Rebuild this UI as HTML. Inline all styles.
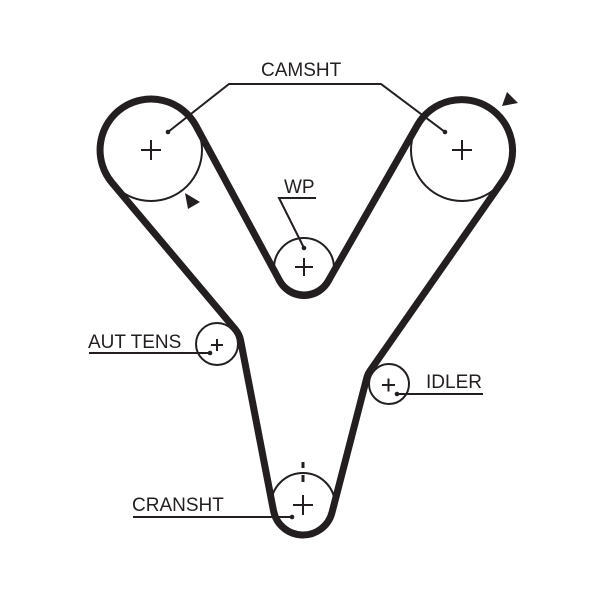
<!DOCTYPE html>
<html>
<head>
<meta charset="utf-8">
<style>
  html, body { margin:0; padding:0; background:#fff; }
  body { width:600px; height:589px; overflow:hidden; }
  svg { display:block; }
  text { font-family:"Liberation Sans", Arial, sans-serif; font-size:19px; fill:#231f20; }
</style>
</head>
<body>
<svg width="600" height="589" viewBox="0 0 600 589" xmlns="http://www.w3.org/2000/svg">
  <rect width="600" height="589" fill="#fff"/>

  <!-- thin pulley circles -->
  <g fill="none" stroke="#231f20" stroke-width="2">
    <circle cx="151" cy="150" r="51"/>
    <circle cx="462" cy="150" r="51"/>
    <circle cx="304" cy="268" r="30"/>
    <circle cx="217" cy="344" r="21"/>
    <circle cx="389" cy="384" r="20"/>
    <circle cx="303" cy="505" r="32"/>
  </g>

  <!-- belt -->
  <path d="M 112.0 182.8
           A 51 51 0 1 1 195.9 125.7
           L 279.4 280.3
           A 28 28 0 0 0 328.3 280.9
           L 417.7 124.6
           A 51 51 0 1 1 503.8 179.2
           L 370.1 370.8
           A 23 23 0 0 0 366.7 378.2
           L 332.0 512.5
           A 30 30 0 0 1 273.5 510.7
           L 240.6 340.4
           A 24 24 0 0 0 235.4 329.5
           Z"
        fill="none" stroke="#231f20" stroke-width="7" stroke-linejoin="round"/>

  <!-- crosses -->
  <g stroke="#231f20" stroke-width="2" fill="none">
    <path d="M141 150 H161 M151 140 V160"/>
    <path d="M452 150 H472 M462 140 V160"/>
    <path d="M295 267 H313 M304 258 V276"/>
    <path d="M211 345 H223 M217 339 V351"/>
    <path d="M382 385 H395 M388.5 378.5 V391.5"/>
    <path d="M293 505 H313 M303 495 V515"/>
  </g>

  <!-- crank timing mark -->
  <g stroke="#231f20" stroke-width="3">
    <line x1="303" y1="462" x2="303" y2="468"/>
    <line x1="303" y1="475" x2="303" y2="482"/>
  </g>

  <!-- arrows -->
  <polygon points="185,193 200,202 188,209" fill="#231f20"/>
  <polygon points="507,92 518,103 502,106" fill="#231f20"/>

  <!-- leader lines -->
  <g fill="none" stroke="#231f20" stroke-width="2">
    <polyline points="168,132 229,84 381,84 445,132"/>
    <polyline points="316,198 279,198 304,248"/>
    <line x1="89" y1="353" x2="210" y2="353"/>
    <line x1="397" y1="394" x2="483" y2="394"/>
    <line x1="133" y1="517" x2="292" y2="517"/>
  </g>
  <g fill="#231f20">
    <circle cx="168" cy="132" r="2.3"/>
    <circle cx="445" cy="132" r="2.3"/>
    <circle cx="304" cy="248" r="2.3"/>
    <circle cx="210" cy="353" r="2.3"/>
    <circle cx="397" cy="394" r="2.3"/>
    <circle cx="292" cy="517" r="2.3"/>
  </g>

  <!-- labels -->
  <text x="261" y="76">CAMSHT</text>
  <text x="284" y="193">WP</text>
  <text x="88" y="348">AUT TENS</text>
  <text x="426" y="388">IDLER</text>
  <text x="132" y="511">CRANSHT</text>
</svg>
</body>
</html>
